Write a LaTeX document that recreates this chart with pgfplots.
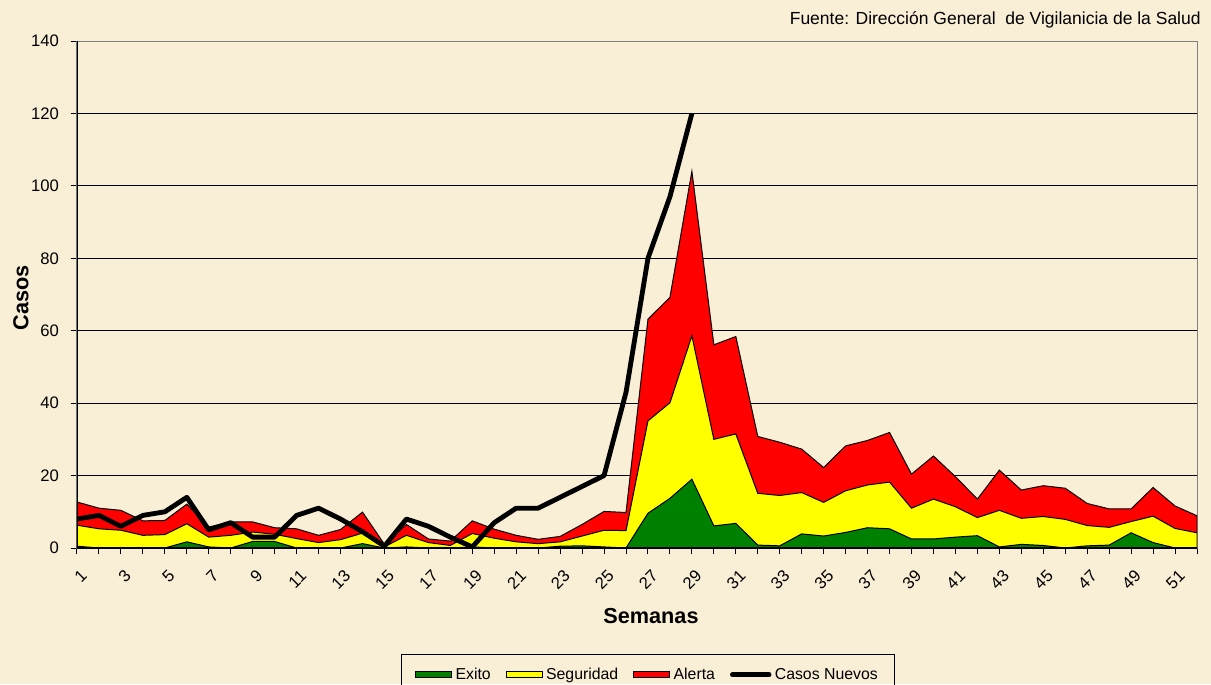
\documentclass[border=0pt]{standalone}
\usepackage{pgfplots}
\pgfplotsset{compat=1.18}
\usepackage{pgfplotstable}
\usepackage{fontspec}
\setmainfont{Liberation Sans}
\definecolor{bg}{RGB}{249,238,214}
\definecolor{exito}{RGB}{0,128,0}
\definecolor{segur}{RGB}{255,255,0}
\definecolor{alerta}{RGB}{255,0,0}
\definecolor{marco}{RGB}{128,128,128}

\pgfplotsset{
  rectleg/.style={legend image code/.code={%
    \draw[##1, line width=0.6pt] (0pt,-1.8pt) rectangle (21.6pt,1.8pt);}},
  lineleg/.style={legend image code/.code={%
    \draw[##1, line cap=round] (0pt,0pt) -- (22pt,0pt);}},
}

% semana, exito, seguridad, alerta (tope de cada area)
\pgfplotstableread{
s  ex   se    al
1  0.5  6.3   12.7
2  0    5.3   11.0
3  0    4.9   10.4
4  0    3.5   7.5
5  0    3.7   7.6
6  1.7  6.7   12.1
7  0.3  3.0   5.8
8  0    3.5   7.2
9  1.8  4.4   7.2
10 1.8  3.8   5.6
11 0    2.6   5.3
12 0    1.5   3.5
13 0    2.3   5.1
14 1.2  4.1   9.9
15 0    0.3   1.0
16 0.3  3.5   6.5
17 0    1.5   2.5
18 0    0.7   1.9
19 0.3  4.0   7.5
20 0    2.7   5.2
21 0    1.7   3.5
22 0    1.2   2.4
23 0.5  1.7   3.2
24 0.6  3.3   6.5
25 0.3  4.9   10.1
26 0    4.8   9.8
27 9.6  35.1  63.2
28 13.7 40.1  69.2
29 19.0 58.6  104.0
30 6.1  30.0  56.1
31 6.8  31.5  58.4
32 0.8  15.1  30.8
33 0.6  14.5  29.2
34 3.9  15.3  27.3
35 3.3  12.6  22.2
36 4.3  15.8  28.2
37 5.6  17.4  29.7
38 5.3  18.2  31.9
39 2.5  11.0  20.4
40 2.5  13.5  25.4
41 3.0  11.4  19.7
42 3.4  8.4   13.5
43 0.3  10.4  21.5
44 1.0  8.2   16.0
45 0.7  8.7   17.2
46 0    7.9   16.5
47 0.6  6.2   12.3
48 0.8  5.7   10.8
49 4.2  7.3   10.8
50 1.5  8.8   16.7
51 0    5.4   11.6
52 0    4.2   8.9
}\areas

\pgfplotstableread{
s  n
1  8
2  9
3  6
4  9
5  10
6  14
7  5
8  7
9  3
10 3
11 9
12 11
13 8
14 4.5
15 0.5
16 8
17 6
18 3
19 0.3
20 7
21 11
22 11
23 14
24 17
25 20
26 43
27 80
28 97
29 120
}\casos

\begin{document}
\begin{tikzpicture}
\fill[bg] (-46.2pt,-81.6pt) rectangle (680.4pt,328.8pt);
\useasboundingbox (-46.2pt,-81.6pt) rectangle (680.4pt,328.8pt);
\begin{axis}[
  at={(0pt,0pt)}, anchor=south west,
  scale only axis, width=672pt, height=304.2pt,
  xmin=1, xmax=52, ymin=0, ymax=140,
  xtick={1,3,...,51}, minor xtick={2,4,...,52},
  ytick={0,20,...,140},
  ymajorgrids,
  major grid style={black, line width=0.6pt},
  tick align=outside, major tick length=3.6pt, minor tick length=3.6pt,
  xtick pos=bottom, ytick pos=left,
  tick style={black, line width=0.6pt},
  axis line style={marco, line width=0.6pt},
  /pgf/number format/assume math mode=true,
  tick label style={font=\fontsize{10}{12}\selectfont},
  xticklabel style={rotate=45, anchor=east, inner sep=0pt, yshift=-11pt, xshift=-5pt},
  yticklabel style={anchor=east, inner sep=0pt, xshift=-7pt},
  xlabel={Semanas},
  xlabel style={at={(axis description cs:0.5125,-0.134)}, anchor=center,
    font=\bfseries\fontsize{13}{15}\selectfont},
  ylabel={Casos},
  ylabel style={at={(axis description cs:-0.05,0.493)}, anchor=center,
    font=\bfseries\fontsize{13}{15}\selectfont},
  legend style={at={(0.51,-0.209)}, anchor=north, draw=black, fill=none,
    line width=0.6pt, font=\fontsize{9.5}{11}\selectfont,
    inner xsep=8pt, inner ysep=6pt},
  legend columns=4,
  legend cell align=left,
  /tikz/every odd column/.append style={column sep=0pt},
  /tikz/every even column/.append style={column sep=7pt},
]
\addplot[draw=black, line width=0.6pt, fill=alerta, forget plot]
  table[x=s, y=al] {\areas} \closedcycle;
\addplot[draw=black, line width=0.6pt, fill=segur, forget plot]
  table[x=s, y=se] {\areas} \closedcycle;
\addplot[draw=black, line width=0.6pt, fill=exito, forget plot]
  table[x=s, y=ex] {\areas} \closedcycle;
\addplot[black, line width=2.9pt, line join=round, forget plot]
  table[x=s, y=n] {\casos};

% entradas de leyenda
\addlegendimage{rectleg, draw=black, fill=exito}
\addlegendentry{Exito}
\addlegendimage{rectleg, draw=black, fill=segur}
\addlegendentry{Seguridad}
\addlegendimage{rectleg, draw=black, fill=alerta}
\addlegendentry{Alerta}
\addlegendimage{lineleg, black, line width=2.9pt}
\addlegendentry{Casos Nuevos}

\draw[black, line width=1.2pt] (rel axis cs:0,0) -- (rel axis cs:0,1);
\draw[black, line width=1.2pt] (rel axis cs:0,0) -- (rel axis cs:1,0);
\end{axis}
\node[anchor=base east, inner sep=0pt, font=\fontsize{10.5}{12}\selectfont]
  at (674.4pt,313.8pt) {Fuente: Dirección General\ \ de Vigilanicia de la Salud};
\end{tikzpicture}
\end{document}
